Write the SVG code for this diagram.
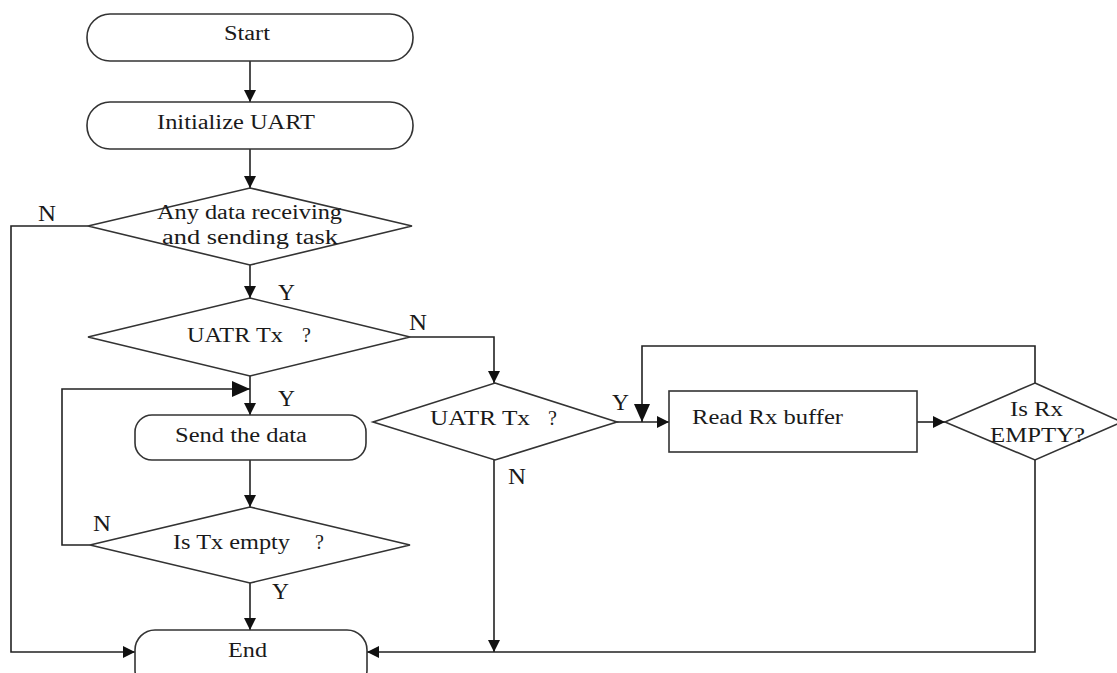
<svg xmlns="http://www.w3.org/2000/svg" width="1117" height="673" viewBox="0 0 1117 673">
  <defs>
    <marker id="arrow" viewBox="0 0 12 12" refX="12" refY="6" markerWidth="12" markerHeight="12" markerUnits="userSpaceOnUse" orient="auto">
      <path d="M0,0 L12,6 L0,12 Z" fill="#111"/>
    </marker>
    <marker id="arrow-big" viewBox="0 0 18 16" refX="18" refY="8" markerWidth="18" markerHeight="16" markerUnits="userSpaceOnUse" orient="auto">
      <path d="M0,0 L18,8 L0,16 Z" fill="#111"/>
    </marker>
    <style>
      .shape { fill: #fff; stroke: #333; stroke-width: 1.6; }
      .line { fill: none; stroke: #222; stroke-width: 1.6; }
      text { font-family: "Liberation Serif", "DejaVu Serif", "Times New Roman", serif; fill: #1a1a1a; dominant-baseline: central; }
      .txt { font-size: 20px; }
      .lbl { font-size: 23px; }
    </style>
  </defs>
  <rect width="1117" height="673" fill="#fff"/>

  <!-- connectors -->
  <g id="connectors">
    <line class="line" x1="250" y1="61" x2="250" y2="102" marker-end="url(#arrow)"/>
    <line class="line" x1="250" y1="149" x2="250" y2="188" marker-end="url(#arrow)"/>
    <polyline class="line" points="88,226 11,226 11,652 135,652" marker-end="url(#arrow)"/>
    <line class="line" x1="250" y1="265" x2="250" y2="298" marker-end="url(#arrow)"/>
    <polyline class="line" points="410,337 494,337 494,383" marker-end="url(#arrow)"/>
    <line class="line" x1="250" y1="376" x2="250" y2="415" marker-end="url(#arrow)"/>
    <polyline class="line" points="90,545 62,545 62,389 250,389" marker-end="url(#arrow-big)"/>
    <line class="line" x1="250" y1="460" x2="250" y2="507" marker-end="url(#arrow)"/>
    <line class="line" x1="250" y1="583" x2="250" y2="630" marker-end="url(#arrow)"/>
    <line class="line" x1="494" y1="460" x2="494" y2="652" marker-end="url(#arrow)"/>
    <line class="line" x1="617" y1="422" x2="669" y2="422" marker-end="url(#arrow)"/>
    <polyline class="line" points="1035,383 1035,346 642,346 642,422" marker-end="url(#arrow-big)"/>
    <line class="line" x1="917" y1="422" x2="945" y2="422" marker-end="url(#arrow)"/>
    <polyline class="line" points="1035,460 1035,652 367,652" marker-end="url(#arrow)"/>
  </g>

  <!-- branch labels -->
  <g id="labels">
    <text class="lbl" x="38" y="213" textLength="18" lengthAdjust="spacingAndGlyphs">N</text>
    <text class="lbl" x="278" y="292" textLength="17" lengthAdjust="spacingAndGlyphs">Y</text>
    <text class="lbl" x="409" y="322" textLength="18" lengthAdjust="spacingAndGlyphs">N</text>
    <text class="lbl" x="278" y="398" textLength="17" lengthAdjust="spacingAndGlyphs">Y</text>
    <text class="lbl" x="93" y="523" textLength="18" lengthAdjust="spacingAndGlyphs">N</text>
    <text class="lbl" x="272" y="591" textLength="17" lengthAdjust="spacingAndGlyphs">Y</text>
    <text class="lbl" x="612" y="402" textLength="17" lengthAdjust="spacingAndGlyphs">Y</text>
    <text class="lbl" x="508" y="476" textLength="18" lengthAdjust="spacingAndGlyphs">N</text>
  </g>

  <g id="start">
    <rect class="shape" x="87" y="14" width="326" height="47" rx="23" ry="23"/>
    <text class="txt" x="224" y="33" font-size="19" textLength="46" lengthAdjust="spacingAndGlyphs">Start</text>
  </g>

  <g id="init-uart">
    <rect class="shape" x="87" y="102" width="326" height="47" rx="23" ry="23"/>
    <text class="txt" x="157" y="122" textLength="158" lengthAdjust="spacingAndGlyphs">Initialize UART</text>
  </g>

  <g id="any-task">
    <polygon class="shape" points="250,188 412,226 250,265 88,226"/>
    <text class="txt" x="157" y="212" textLength="185" lengthAdjust="spacingAndGlyphs">Any data receiving</text>
    <text class="txt" x="162" y="237" textLength="176" lengthAdjust="spacingAndGlyphs">and sending task</text>
  </g>

  <g id="tx-check">
    <polygon class="shape" points="250,298 410,337 250,376 88,337"/>
    <text class="txt" x="187" y="335" textLength="96" lengthAdjust="spacingAndGlyphs">UATR Tx</text>
    <text class="txt" x="302" y="335">?</text>
  </g>

  <g id="send-data">
    <rect class="shape" x="135" y="415" width="231" height="45" rx="17" ry="17"/>
    <text class="txt" x="175" y="435" textLength="132" lengthAdjust="spacingAndGlyphs">Send the data</text>
  </g>

  <g id="tx-empty">
    <polygon class="shape" points="250,507 410,545 250,583 90,545"/>
    <text class="txt" x="173" y="542" textLength="117" lengthAdjust="spacingAndGlyphs">Is Tx empty</text>
    <text class="txt" x="315" y="542">?</text>
  </g>

  <g id="end">
    <rect class="shape" x="135" y="630" width="232" height="60" rx="20" ry="20"/>
    <text class="txt" x="228" y="650" textLength="39" lengthAdjust="spacingAndGlyphs">End</text>
  </g>

  <g id="rx-check">
    <polygon class="shape" points="495,383 617,422 495,460 373,422"/>
    <text class="txt" x="430" y="418" textLength="100" lengthAdjust="spacingAndGlyphs">UATR Tx</text>
    <text class="txt" x="548" y="418">?</text>
  </g>

  <g id="read-rx">
    <rect class="shape" x="669" y="391" width="248" height="61"/>
    <text class="txt" x="692" y="417" textLength="151" lengthAdjust="spacingAndGlyphs">Read Rx buffer</text>
  </g>

  <g id="rx-empty">
    <polygon class="shape" points="1035,383 1122,422 1035,460 945,422"/>
    <text class="txt" x="1010" y="409" textLength="53" lengthAdjust="spacingAndGlyphs">Is Rx</text>
    <text class="txt" x="990" y="435" textLength="95" lengthAdjust="spacingAndGlyphs">EMPTY?</text>
  </g>
</svg>
